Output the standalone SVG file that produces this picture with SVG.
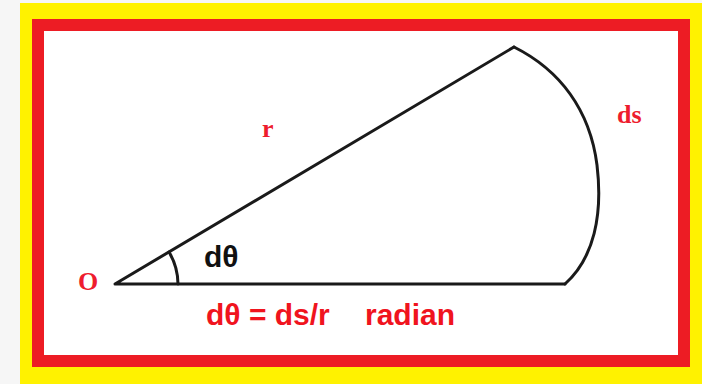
<svg xmlns="http://www.w3.org/2000/svg" width="702" height="384" viewBox="0 0 702 384">
  <style>
    .line { fill: none; stroke: #1a1a1a; stroke-width: 3; stroke-linecap: round; stroke-linejoin: round; }
    .serif { font-family: "Liberation Serif", "Times New Roman", serif; font-weight: bold; font-size: 26px; fill: #ee1c2e; }
    .sans { font-family: "Liberation Sans", Arial, sans-serif; font-weight: bold; font-size: 30px; }
  </style>
  <rect x="0" y="0" width="702" height="384" fill="#f6f6f6"/>
  <g id="frame">
    <rect x="20" y="3" width="682" height="381" fill="#fff200"/>
    <rect x="38" y="25" width="646" height="336" fill="#ffffff" stroke="#ed1c24" stroke-width="12"/>
  </g>
  <g id="sector">
    <path class="line" d="M565,284 L115,284 L514,47"/>
    <path class="line" d="M514,47 C560,70 590,110 597,165 C603,215 594,258 565,284"/>
    <path class="line" d="M169,252 A63,63 0 0 1 178,284"/>
  </g>
  <g id="labels">
    <text class="serif" x="78" y="290">O</text>
    <text class="serif" x="262" y="137">r</text>
    <text class="serif" x="617" y="123">ds</text>
    <text class="sans" x="204" y="267" fill="#111111">dθ</text>
    <text class="sans" x="206" y="325" fill="#f0141e">dθ = ds/r</text>
    <text class="sans" x="365" y="325" fill="#f0141e">radian</text>
  </g>
</svg>
